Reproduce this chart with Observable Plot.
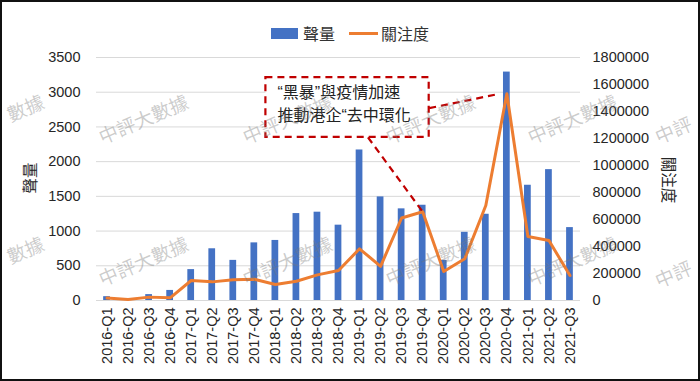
<!DOCTYPE html>
<html>
<head>
<meta charset="utf-8">
<script src="https://cdn.jsdelivr.net/npm/d3@7"></script>
<script src="https://cdn.jsdelivr.net/npm/@observablehq/plot@0.6"></script>
<style>
  html, body { margin: 0; padding: 0; background: #fff; }
  #wrap { position: relative; width: 700px; height: 381px; box-sizing: border-box; border: 2px solid #111; overflow: hidden; background: #fff; }
  #legend { height: 20px; padding-top: 21px; display: flex; justify-content: center; align-items: center;
            font-family: "Liberation Sans", "Noto Sans CJK TC", sans-serif; font-size: 16px; color: #333; }
  #legend .item { display: flex; align-items: center; }
  #legend .sw-bar { width: 27px; height: 11px; background: #4472C4; margin-right: 5px; }
  #legend .sw-line { width: 29px; height: 3px; background: #ED7D31; margin-right: 3px; margin-left: 14px; }
  #chart svg { display: block; }
  .ytitle { position: absolute; font-family: "Noto Sans CJK TC", sans-serif; font-size: 15.5px; color: #262626;
            white-space: nowrap; line-height: 1; }
  .wm { position: absolute; font-family: "Noto Sans CJK TC", sans-serif; font-size: 19px; color: rgba(120,120,120,0.38);
        white-space: nowrap; transform: translate(-50%, -50%) rotate(-23deg); pointer-events: none; line-height: 1; }
</style>
</head>
<body>
<div id="wrap">
  <div id="legend">
    <div class="item"><div class="sw-bar"></div><span>聲量</span></div>
    <div class="item"><div class="sw-line"></div><span>關注度</span></div>
  </div>
  <div id="chart"></div>
  <div class="ytitle" id="yLeftTitle" style="left:28px; top:176px; transform: translate(-50%, -50%) rotate(-90deg);">聲量</div>
  <div class="ytitle" id="yRightTitle" style="left:667px; top:178px; transform: translate(-50%, -50%) rotate(90deg);">關注度</div>
</div>
<script>
const quarters = ["2016-Q1","2016-Q2","2016-Q3","2016-Q4","2017-Q1","2017-Q2","2017-Q3","2017-Q4",
  "2018-Q1","2018-Q2","2018-Q3","2018-Q4","2019-Q1","2019-Q2","2019-Q3","2019-Q4",
  "2020-Q1","2020-Q2","2020-Q3","2020-Q4","2021-Q1","2021-Q2","2021-Q3"];
const volume = [55, 12, 85, 145, 445, 745, 578, 830, 865, 1252, 1272, 1085, 2168, 1492, 1320, 1372, 578, 982, 1242, 3290, 1660, 1885, 1050];
const attention = [18000, 8000, 25000, 20000, 148000, 138000, 153000, 157000, 118000, 143000, 190000, 222000, 383000, 253000, 611000, 657000, 215000, 309000, 704000, 1531000, 474000, 444000, 185000];
const leftTicks = [0, 500, 1000, 1500, 2000, 2500, 3000, 3500];
const rightTicks = [0, 200000, 400000, 600000, 800000, 1000000, 1200000, 1400000, 1600000, 1800000];
const annotationLines = ["“黑暴”與疫情加速", "推動港企“去中環化"];
const watermarkText = "中評大數據";
const watermarkLeftPart = "數據";
const watermarkRightPart = "中評";

const LEFT_MAX = 3500, RIGHT_MAX = 1800000;
const k = LEFT_MAX / RIGHT_MAX;

const barData = volume.map((v, i) => ({i, v}));
const lineData = attention.map((a, i) => ({i, y: a * k}));

// annotation in data space (x = quarter index, y = left-axis units)
const box = [{x1: 7.55, x2: 15.31, y1: 2350, y2: 3210}];
const connectors = [
  {x1: 12.4, y1: 2350, x2: 15, y2: attention[15] * k},
  {x1: 15.31, y1: 2770, x2: 18.65, y2: attention[19] * k}
];

const font = "'Liberation Sans', 'Noto Sans CJK TC', sans-serif";

const chart = Plot.plot({
  width: 696,
  height: 336,
  marginTop: 14,
  marginBottom: 79,
  marginLeft: 94,
  marginRight: 118,
  style: {fontFamily: font, fontSize: "14.5px", color: "#262626", background: "transparent"},
  x: {axis: null, domain: [-0.5, 22.5]},
  y: {axis: null, domain: [0, LEFT_MAX]},
  marks: [
    Plot.gridY(leftTicks, {stroke: "#d9d9d9", strokeOpacity: 1, strokeWidth: 1}),
    Plot.rect(barData, {x1: d => d.i - 0.16, x2: d => d.i + 0.16, y1: 0, y2: "v", fill: "#4472C4"}),
    Plot.line(lineData, {x: "i", y: "y", stroke: "#ED7D31", strokeWidth: 3, strokeLinejoin: "round", strokeLinecap: "round"}),
    Plot.rect(box, {x1: "x1", x2: "x2", y1: "y1", y2: "y2", fill: "white", stroke: "#C00000", strokeWidth: 2.2, strokeDasharray: "7,5"}),
    Plot.link(connectors, {x1: "x1", y1: "y1", x2: "x2", y2: "y2", stroke: "#C00000", strokeWidth: 2.2, strokeDasharray: "7,5"}),
    Plot.text([annotationLines.join("\n")], {x: 8.1, y: 2852, text: d => d, textAnchor: "start", lineHeight: 1.4, fontSize: 16, fill: "#222", fontFamily: font}),
    Plot.axisY(leftTicks, {anchor: "left", tickSize: 0, tickPadding: 16, label: null, tickFormat: d => String(d)}),
    Plot.axisY(rightTicks.map(v => v * k), {anchor: "right", tickSize: 0, tickPadding: 12, label: null, tickFormat: v => String(Math.round(v / k))}),
    Plot.axisX(d3.range(quarters.length), {anchor: "bottom", tickSize: 0, tickPadding: 7, tickRotate: -90, label: null, tickFormat: i => quarters[i]})
  ]
});
document.getElementById("chart").appendChild(chart);

// watermark overlay (partial copies at the edges show only their visible characters)
const wrap = document.getElementById("wrap");
function addWm(text, cx, cy) {
  const s = document.createElement("div");
  s.className = "wm";
  s.textContent = text;
  s.style.left = (cx - 2) + "px";
  s.style.top = (cy - 2) + "px";
  wrap.appendChild(s);
}
const wmCols = [143, 287, 430, 572];
const wmRows = [118, 260];
for (const cy of wmRows) {
  for (const cx of wmCols) addWm(watermarkText, cx, cy);
}
addWm(watermarkLeftPart, 25, 107);
addWm(watermarkLeftPart, 25, 249);
addWm(watermarkRightPart, 673, 129);
addWm(watermarkRightPart, 673, 273);
</script>
</body>
</html>
